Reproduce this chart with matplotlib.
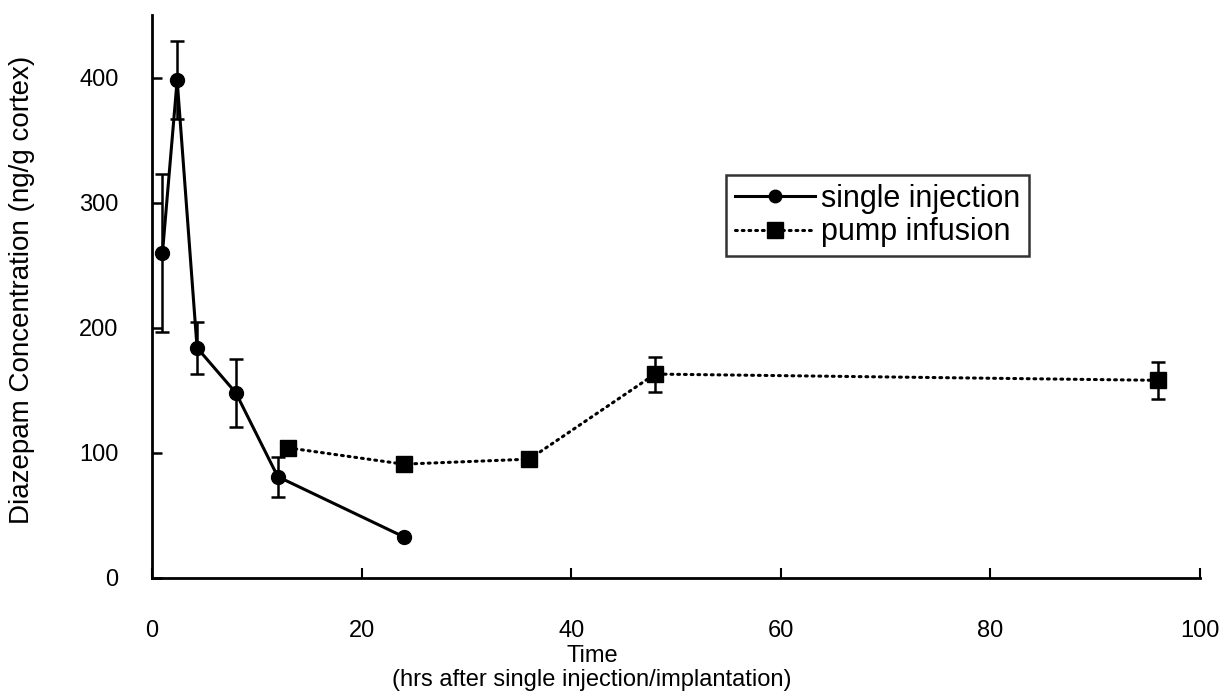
import matplotlib
matplotlib.use("Agg")
import matplotlib.pyplot as plt
from matplotlib.lines import Line2D

plt.rcParams['font.family'] = ['Liberation Sans', 'DejaVu Sans']

# Data
inj_time = [1, 2.4, 4.3, 8, 12, 24]
inj_conc = [260, 398, 184, 148, 81, 33]
inj_err = [63, 31, 21, 27, 16, 0]

pump_time = [13, 24, 36, 48, 96]
pump_conc = [104, 91, 95, 163, 158]
pump_err = [3, 5, 4, 14, 15]

xticks = [0, 20, 40, 60, 80, 100]
yticks = [0, 100, 200, 300, 400]

fig = plt.figure(figsize=(12.28, 6.92), dpi=100)
ax = fig.add_axes([152/1228, (692-578)/692, (1200-152)/1228, (578-15)/692])

inj_style = dict(color='black', lw=2.2, marker='o', markersize=10)
pump_style = dict(color='black', lw=2.2, linestyle=(0, (0.6, 1.6)),
                  dash_capstyle='round', marker='s', markersize=12)

ax.errorbar(inj_time, inj_conc, yerr=inj_err, capsize=5, elinewidth=1.8,
            capthick=1.8, zorder=3, **inj_style)
ax.errorbar(pump_time, pump_conc, yerr=pump_err, capsize=5, elinewidth=1.8,
            capthick=1.8, zorder=3, **pump_style)

ax.set_xlim(0, 100)
ax.set_ylim(0, 450)
ax.set_xticks(xticks)
ax.set_yticks(yticks)
ax.spines['top'].set_visible(False)
ax.spines['right'].set_visible(False)
for s in ('left', 'bottom'):
    ax.spines[s].set_linewidth(2.0)
ax.tick_params(axis='x', direction='in', length=7, width=1.5, pad=30, labelsize=17)
ax.tick_params(axis='y', direction='in', length=7, width=1.8, pad=24, labelsize=17)

handles = [Line2D([], [], markersize=9, **{k: v for k, v in inj_style.items() if k != 'markersize'}),
           Line2D([], [], markersize=12, **{k: v for k, v in pump_style.items() if k != 'markersize'})]
leg = ax.legend(handles, ['single injection', 'pump infusion'],
                loc='upper left', bbox_to_anchor=((726-152)/1048, (578-175)/563),
                fontsize=22, frameon=True, fancybox=False, edgecolor='black',
                handlelength=2.6, handletextpad=0.2, borderpad=0.3,
                labelspacing=0.1, borderaxespad=0)
leg.get_frame().set_linewidth(1.8)

fig.text(592/1228, 1 - 668/692, 'Time\n(hrs after single injection/implantation)',
         ha='center', va='center', fontsize=17, linespacing=1.15)
fig.text(22/1228, 1 - 290/692, 'Diazepam Concentration (ng/g cortex)',
         ha='center', va='center', rotation=90, fontsize=20)

fig.savefig('out.png', dpi=100)
